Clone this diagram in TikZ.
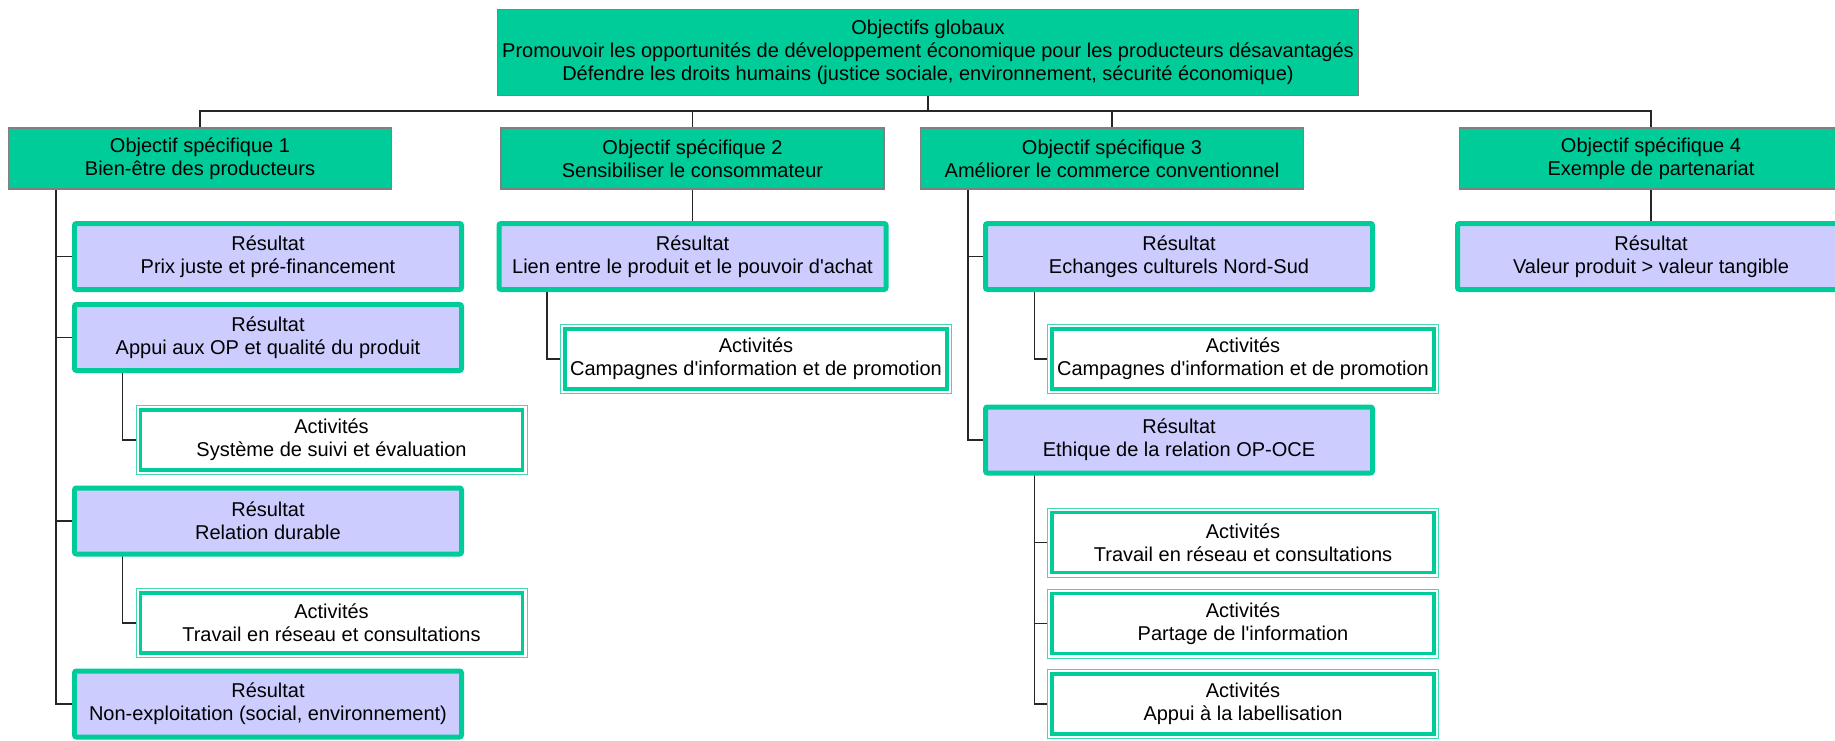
\documentclass[tikz,border=0pt]{standalone}
\usepackage{fontspec}
\setmainfont{Liberation Sans}
\pgfdeclarelayer{background}
\pgfsetlayers{background,main}
\definecolor{grn}{HTML}{00CC99}
\definecolor{grnlight}{HTML}{40D9B0}
\definecolor{lav}{HTML}{CCCCFF}
\definecolor{bordgray}{HTML}{808080}
\tikzset{
  txt/.style={font=\fontsize{20}{23}\selectfont, align=center, inner sep=0pt, outer sep=0pt, text=black},
  globalbox/.style={txt, fill=grn, draw=bordgray, line width=1.5pt, minimum width=861pt, minimum height=86pt},
  osbox/.style={txt, fill=grn, draw=bordgray, line width=1.5pt, minimum width=383pt, minimum height=61pt},
  resbox/.style={txt, fill=lav, draw=grn, line width=5pt, rounded corners=2pt, minimum width=387pt, minimum height=66pt},
  actbox/.style={txt, fill=white, draw=grnlight, line width=1pt, minimum width=391pt, minimum height=69pt},
  conn/.style={draw=black!85, line width=1.4pt},
  inner/.style={draw=grn, line width=3.5pt}
}
\begin{document}
\begin{tikzpicture}[x=1pt, y=-1pt]
\clip (0,0) rectangle (1835,740);
% global
\node[globalbox] (G) at (928,52.5) {Objectifs globaux\\Promouvoir les opportunités de développement économique pour les producteurs désavantagés\\Défendre les droits humains (justice sociale, environnement, sécurité économique)};
% specific objectives
\node[osbox] (o1) at (200,158.5) {Objectif spécifique 1\\Bien-être des producteurs};
\node[osbox] (o2) at (692.5,158.5) {Objectif spécifique 2\\Sensibiliser le consommateur};
\node[osbox] (o3) at (1112,158.5) {Objectif spécifique 3\\Améliorer le commerce conventionnel};
\node[osbox] (o4) at (1651,158.5) {Objectif spécifique 4\\Exemple de partenariat};
% results
\node[resbox] (r1) at (268,256.5) {Résultat\\Prix juste et pré-financement};
\node[resbox] (r2) at (268,337.5) {Résultat\\Appui aux OP et qualité du produit};
\node[resbox] (r3) at (268,521) {Résultat\\Relation durable};
\node[resbox] (r4) at (268,704) {Résultat\\Non-exploitation (social, environnement)};
\node[resbox] (r5) at (692.5,256.5) {Résultat\\Lien entre le produit et le pouvoir d\textquotesingle achat};
\node[resbox] (r6) at (1179,256.5) {Résultat\\Echanges culturels Nord-Sud};
\node[resbox] (r7) at (1179,440) {Résultat\\Ethique de la relation OP-OCE};
\node[resbox] (r8) at (1651,256.5) {Résultat\\Valeur produit > valeur tangible};
% activities
\node[actbox] (a1) at (331.5,440) {Activités\\Système de suivi et évaluation};
\node[actbox] (a2) at (331.5,623) {Activités\\Travail en réseau et consultations};
\node[actbox] (a3) at (756,359) {Activités\\Campagnes d\textquotesingle information et de promotion};
\node[actbox] (a4) at (1243,359) {Activités\\Campagnes d\textquotesingle information et de promotion};
\node[actbox] (a5) at (1243,542.5) {Activités\\Travail en réseau et consultations};
\node[actbox] (a6) at (1243,623.5) {Activités\\Partage de l\textquotesingle information};
\node[actbox] (a7) at (1243,704) {Activités\\Appui à la labellisation};
\foreach \n in {a1,a2,a3,a4,a5,a6,a7}
  \draw[inner] ([shift={(4.5pt,-4.5pt)}]\n.north west) rectangle ([shift={(-4.5pt,4.5pt)}]\n.south east);
% connectors
\coordinate (bus) at (928,111);
\coordinate (c1) at (56,189);
\coordinate (c3) at (968,189);
\begin{pgfonlayer}{background}
\fill[white] (0,0) rectangle (1835,740);
\draw[conn] (G.south) -- (bus);
\draw[conn] (o1.north) |- (bus) -| (o4.north);
\draw[conn] (o2.north) -- (o2.north |- bus);
\draw[conn] (o3.north) -- (o3.north |- bus);
% column 1
\draw[conn] (c1) |- (r4.west);
\draw[conn] (c1 |- r1.west) -- (r1.west);
\draw[conn] (c1 |- r2.west) -- (r2.west);
\draw[conn] (c1 |- r3.west) -- (r3.west);
\draw[conn] ([xshift=48pt]r2.south west) |- (a1.west);
\draw[conn] ([xshift=48pt]r3.south west) |- (a2.west);
% column 2
\draw[conn] (o2.south) -- (r5.north);
\draw[conn] ([xshift=48pt]r5.south west) |- (a3.west);
% column 3
\draw[conn] (c3) |- (r7.west);
\draw[conn] (c3 |- r6.west) -- (r6.west);
\draw[conn] ([xshift=49pt]r6.south west) |- (a4.west);
\draw[conn] ([xshift=49pt]r7.south west) |- (a7.west);
\draw[conn] ([xshift=49pt]r7.south west |- a5.west) -- (a5.west);
\draw[conn] ([xshift=49pt]r7.south west |- a6.west) -- (a6.west);
% column 4
\draw[conn] (o4.south) -- (r8.north);
\end{pgfonlayer}
\end{tikzpicture}
\end{document}
